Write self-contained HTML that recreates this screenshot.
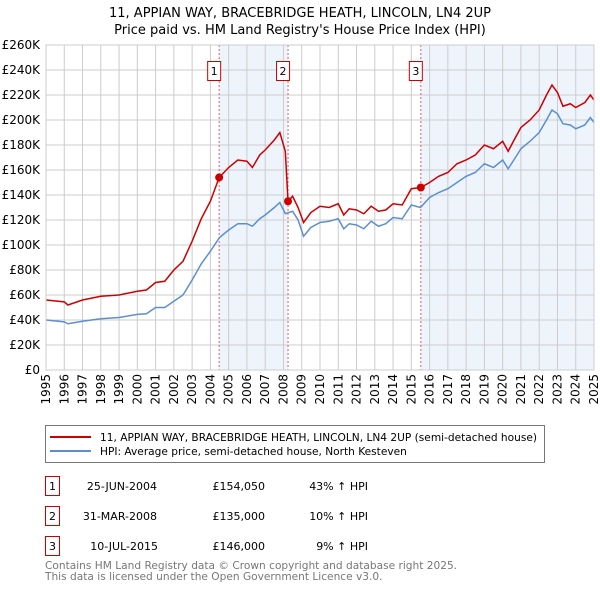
<!DOCTYPE html>
<html><head><meta charset="utf-8"><style>
body{margin:0;background:#fff;font-family:"Liberation Sans","DejaVu Sans",sans-serif;}
#wrap{position:relative;width:600px;height:590px;overflow:hidden;}
</style></head><body><div id="wrap">
<svg id="svg" width="600" height="590" style="position:absolute;left:0;top:0">
<text x="300" y="17" text-anchor="middle" font-size="13" font-family="DejaVu Sans, sans-serif">11, APPIAN WAY, BRACEBRIDGE HEATH, LINCOLN, LN4 2UP</text>
<text x="300" y="34" text-anchor="middle" font-size="13" font-family="DejaVu Sans, sans-serif">Price paid vs. HM Land Registry's House Price Index (HPI)</text>
<g id="plot"></g>
<rect x="45.5" y="425.5" width="499" height="37" fill="#fff" stroke="#777"/>
<line x1="50" y1="437" x2="91" y2="437" stroke="#cc0000" stroke-width="2"/>
<text x="100" y="441" font-size="10.6" font-family="DejaVu Sans, sans-serif">11, APPIAN WAY, BRACEBRIDGE HEATH, LINCOLN, LN4 2UP (semi-detached house)</text>
<line x1="50" y1="451" x2="91" y2="451" stroke="#5b8fd0" stroke-width="2"/>
<text x="100" y="455" font-size="10.6" font-family="DejaVu Sans, sans-serif">HPI: Average price, semi-detached house, North Kesteven</text>
<g font-size="11" font-family="DejaVu Sans, sans-serif">
<rect x="45.5" y="476.5" width="14" height="19" fill="none" stroke="#cc0000"/><text x="52.5" y="490" text-anchor="middle">1</text>
<text x="157" y="490" text-anchor="end">25-JUN-2004</text>
<text x="265" y="490" text-anchor="end">£154,050</text>
<text x="368" y="490" text-anchor="end">43% ↑ HPI</text>
<rect x="45.5" y="506.5" width="14" height="19" fill="none" stroke="#cc0000"/><text x="52.5" y="520" text-anchor="middle">2</text>
<text x="157" y="520" text-anchor="end">31-MAR-2008</text>
<text x="265" y="520" text-anchor="end">£135,000</text>
<text x="368" y="520" text-anchor="end">10% ↑ HPI</text>
<rect x="45.5" y="536.5" width="14" height="19" fill="none" stroke="#cc0000"/><text x="52.5" y="550" text-anchor="middle">3</text>
<text x="158" y="550" text-anchor="end">10-JUL-2015</text>
<text x="265" y="550" text-anchor="end">£146,000</text>
<text x="368" y="550" text-anchor="end">9% ↑ HPI</text>
</g>
<text x="45" y="569" font-size="10.6" fill="#777" font-family="DejaVu Sans, sans-serif">Contains HM Land Registry data © Crown copyright and database right 2025.</text>
<text x="45" y="580" font-size="10.6" fill="#777" font-family="DejaVu Sans, sans-serif">This data is licensed under the Open Government Licence v3.0.</text>
</svg>
</div>
<script>
const hpiYears=[1995,1996,1996.2,1997,1998,1999,2000,2000.5,2001,2001.5,2002,2002.5,2003,2003.5,2004,2004.5,2005,2005.5,2006,2006.3,2006.7,2007,2007.5,2007.8,2008.1,2008.5,2008.8,2009.1,2009.5,2010,2010.5,2011,2011.3,2011.6,2012,2012.4,2012.8,2013.2,2013.6,2014,2014.5,2015,2015.5,2016,2016.5,2017,2017.5,2018,2018.5,2019,2019.5,2020,2020.3,2020.7,2021,2021.5,2022,2022.4,2022.7,2023,2023.3,2023.7,2024,2024.5,2024.8,2025];
const hpiValues=[40,38.5,37,39,41,42,44.5,45,50,50,55,60,72,85,95,106,112,117,117,115,121,124,130,134,125,127,120,107,114,118,119,121,113,117,116,113,119,115,117,122,121,132,130,138,142,145,150,155,158,165,162,168,161,170,177,183,190,200,208,205,197,196,193,196,202,198];
const propYears=[1995,1996,1996.2,1997,1998,1999,2000,2000.5,2001,2001.5,2002,2002.5,2003,2003.5,2004,2004.48,2005,2005.5,2006,2006.3,2006.7,2007,2007.5,2007.8,2008.1,2008.25,2008.5,2008.8,2009.1,2009.5,2010,2010.5,2011,2011.3,2011.6,2012,2012.4,2012.8,2013.2,2013.6,2014,2014.5,2015,2015.52,2016,2016.5,2017,2017.5,2018,2018.5,2019,2019.5,2020,2020.3,2020.7,2021,2021.5,2022,2022.4,2022.7,2023,2023.3,2023.7,2024,2024.5,2024.8,2025];
const propValues=[56,54.5,52,56,59,60,63,64,70,71,80,87,103,121,135,154,162,168,167,162,172,176,184,190,175,135,139,130,118,126,131,130,133,124,129,128,125,131,127,128,133,132,145,146,150,155,158,165,168,172,180,177,183,175,186,194,200,208,220,228,222,211,213,210,214,220,216];
const saleYears=[2004.48,2008.25,2015.52];
const saleValues=[154.05,135,146];
const saleLabels=["1","2","3"];
const yTicks=[0,20,40,60,80,100,120,140,160,180,200,220,240,260];
const xTicks=[1995,1996,1997,1998,1999,2000,2001,2002,2003,2004,2005,2006,2007,2008,2009,2010,2011,2012,2013,2014,2015,2016,2017,2018,2019,2020,2021,2022,2023,2024,2025];

const X0=46,X1=594,Y0=370,Y1=45;
const xs=y=>X0+(y-1995)/30*(X1-X0);
const ys=v=>Y0-v/260*(Y0-Y1);
const NS="http://www.w3.org/2000/svg";
const g=document.getElementById('plot');
function mk(tag,attrs){const e=document.createElementNS(NS,tag);for(const k in attrs)e.setAttribute(k,attrs[k]);g.appendChild(e);return e;}
let sh=mk('rect',{x:xs(saleYears[0]),y:Y1,width:xs(saleYears[1])-xs(saleYears[0]),height:Y0-Y1,fill:'#eef4fc'});


sh=mk('rect',{x:xs(saleYears[2]),y:Y1,width:X1-xs(saleYears[2]),height:Y0-Y1,fill:'#eef4fc'});


yTicks.forEach(v=>{
 const l=mk('line',{x1:X0,x2:X1,y1:ys(v),y2:ys(v),stroke:'#cccccc'});
 
 
 const t=mk('text',{x:X0-6,y:ys(v)+4,'text-anchor':'end','font-size':'12','font-family':'DejaVu Sans, sans-serif'});
 t.textContent=v===0?'£0':'£'+v+'K';
 
 
});
xTicks.forEach(y=>{
 const l=mk('line',{x1:xs(y),x2:xs(y),y1:Y1,y2:Y0,stroke:'#cccccc'});
 
 
 const t=mk('text',{transform:`translate(${xs(y)+4},${Y0+4}) rotate(-90)`,'text-anchor':'end','font-size':'12','font-family':'DejaVu Sans, sans-serif'});
 t.textContent=y;
 
 
});
saleYears.forEach((y,i)=>{
 const l=mk('line',{x1:xs(y),x2:xs(y),y1:Y1,y2:Y0,stroke:'#e06060','stroke-dasharray':'2,2'});
 
 
 const r=mk('rect',{x:xs(y)-11.5,y:61.5,width:13,height:19,fill:'#fff',stroke:'#cc0000'});
 
 
 const t=mk('text',{x:xs(y)-5,y:75,'text-anchor':'middle','font-size':'11','font-family':'DejaVu Sans, sans-serif'});
 t.textContent=saleLabels[i];
 
 
});
const hp=mk('polyline',{points:hpiYears.map((y,i)=>xs(y)+','+ys(hpiValues[i])).join(' '),fill:'none',stroke:'#5b8fd0','stroke-width':1.5});


const pp=mk('polyline',{points:propYears.map((y,i)=>xs(y)+','+ys(propValues[i])).join(' '),fill:'none',stroke:'#cc0000','stroke-width':1.5});


saleYears.forEach((y,i)=>{
 const c=mk('circle',{cx:xs(y),cy:ys(saleValues[i]),r:4,fill:'#cc0000'});
 
 
});
const ax=mk('rect',{x:X0,y:Y1,width:X1-X0,height:Y0-Y1,fill:'none',stroke:'#cccccc'});


</script>
</body></html>
